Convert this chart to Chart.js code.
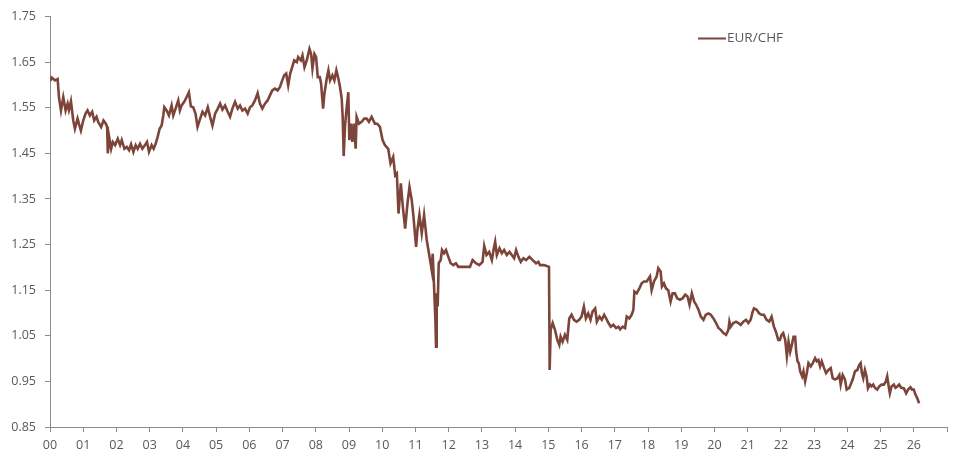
<!DOCTYPE html>
<html>
<head>
<meta charset="utf-8">
<script src="https://cdn.jsdelivr.net/npm/chart.js@4/dist/chart.umd.min.js"></script>
<style>
  html, body { margin: 0; padding: 0; background: #ffffff; }
  #wrap { width: 956px; height: 461px; position: relative; }
</style>
</head>
<body>
<div id="wrap"><canvas id="c" width="956" height="461"></canvas></div>
<script>
const seriesLabel = "EUR/CHF";

const dates = [
2000.00,2000.05,2000.15,2000.23,2000.27,2000.33,2000.40,2000.47,2000.53,2000.57,2000.63,2000.70,2000.75,2000.83,2000.87,2000.93,
2001.00,2001.07,2001.13,2001.20,2001.27,2001.33,2001.40,2001.45,2001.54,2001.61,2001.68,2001.72,2001.74,2001.78,2001.84,2001.89,2001.96,
2002.04,2002.11,2002.16,2002.24,2002.31,2002.38,2002.44,2002.51,2002.58,2002.64,2002.71,2002.78,2002.86,2002.92,2002.98,
2003.06,2003.12,2003.18,2003.24,2003.30,2003.36,2003.41,2003.44,2003.51,2003.58,2003.66,2003.71,2003.78,2003.86,2003.91,2003.96,
2004.04,2004.11,2004.18,2004.24,2004.31,2004.38,2004.44,2004.52,2004.59,2004.67,2004.75,2004.82,2004.89,2004.97,
2005.05,2005.12,2005.19,2005.27,2005.35,2005.42,2005.49,2005.57,2005.65,2005.72,2005.79,2005.87,2005.95,
2006.02,2006.09,2006.17,2006.25,2006.32,2006.39,2006.47,2006.55,2006.62,2006.69,2006.77,2006.85,2006.92,2006.99,
2007.05,2007.11,2007.17,2007.23,2007.29,2007.35,2007.43,2007.47,2007.55,2007.60,2007.66,2007.73,2007.81,2007.86,2007.90,2007.96,
2008.01,2008.06,2008.12,2008.16,2008.22,2008.26,2008.33,2008.38,2008.43,2008.50,2008.56,2008.62,2008.68,2008.73,2008.78,2008.81,2008.84,2008.88,2008.93,2008.98,
2009.01,2009.06,2009.10,2009.15,2009.20,2009.23,2009.30,2009.38,2009.46,2009.53,2009.60,2009.68,2009.78,2009.85,2009.93,
2010.01,2010.08,2010.18,2010.25,2010.33,2010.39,2010.44,2010.49,2010.56,2010.62,2010.69,2010.76,2010.82,2010.89,2010.94,
2011.02,2011.06,2011.12,2011.19,2011.26,2011.34,2011.39,2011.44,2011.49,2011.52,2011.56,2011.60,2011.62,2011.64,2011.67,2011.70,2011.76,2011.80,2011.86,2011.92,2011.99,
2012.06,2012.14,2012.22,2012.29,2012.44,2012.64,2012.72,2012.82,2012.92,
2013.02,2013.07,2013.14,2013.22,2013.30,2013.35,2013.40,2013.45,2013.53,2013.60,2013.67,2013.75,2013.83,2013.90,2013.97,
2014.03,2014.10,2014.17,2014.25,2014.33,2014.43,2014.53,2014.63,2014.70,2014.75,2014.87,2014.95,
2015.02,2015.04,2015.07,2015.13,2015.20,2015.27,2015.33,2015.37,2015.43,2015.50,2015.57,2015.63,2015.70,2015.77,2015.85,2015.93,
2016.00,2016.07,2016.13,2016.20,2016.27,2016.33,2016.41,2016.46,2016.54,2016.61,2016.68,2016.74,2016.81,2016.88,2016.96,
2017.04,2017.11,2017.16,2017.24,2017.31,2017.36,2017.44,2017.51,2017.56,2017.59,2017.66,2017.74,2017.81,2017.88,2017.96,
2018.06,2018.11,2018.18,2018.26,2018.31,2018.38,2018.42,2018.48,2018.54,2018.61,2018.68,2018.74,2018.81,2018.88,2018.96,
2019.04,2019.12,2019.19,2019.25,2019.32,2019.39,2019.45,2019.52,2019.59,2019.67,2019.74,2019.82,2019.89,2019.97,
2020.05,2020.12,2020.19,2020.27,2020.35,2020.42,2020.45,2020.49,2020.57,2020.65,2020.72,2020.79,2020.87,2020.95,
2021.02,2021.09,2021.15,2021.19,2021.27,2021.35,2021.42,2021.49,2021.57,2021.65,2021.72,2021.79,2021.85,2021.92,2021.97,
2022.02,2022.07,2022.13,2022.18,2022.23,2022.28,2022.33,2022.38,2022.43,2022.46,2022.50,2022.54,2022.58,2022.64,2022.68,2022.73,2022.78,2022.83,2022.90,2022.96,
2023.03,2023.08,2023.13,2023.18,2023.23,2023.30,2023.36,2023.43,2023.50,2023.56,2023.63,2023.70,2023.76,2023.80,2023.86,2023.93,2023.98,
2024.06,2024.10,2024.16,2024.23,2024.30,2024.36,2024.40,2024.44,2024.48,2024.53,2024.58,2024.62,2024.68,2024.73,2024.78,2024.83,2024.90,2024.96,
2025.03,2025.10,2025.16,2025.20,2025.23,2025.28,2025.33,2025.40,2025.45,2025.52,2025.56,2025.62,2025.70,2025.77,2025.83,2025.90,2025.95,
2026.00,2026.05,2026.10,2026.16
];

const eurchf = [
1.608,1.616,1.610,1.613,1.573,1.544,1.573,1.544,1.559,1.545,1.564,1.522,1.504,1.526,1.515,1.500,
1.522,1.537,1.544,1.533,1.541,1.522,1.530,1.519,1.508,1.522,1.515,1.508,1.450,1.486,1.460,1.475,1.468,
1.482,1.468,1.479,1.460,1.464,1.457,1.470,1.453,1.468,1.460,1.471,1.460,1.468,1.475,1.453,
1.468,1.460,1.471,1.486,1.504,1.511,1.533,1.551,1.544,1.533,1.555,1.533,1.548,1.566,1.544,1.555,
1.563,1.573,1.584,1.553,1.551,1.537,1.508,1.526,1.541,1.533,1.551,1.530,1.511,1.537,
1.548,1.559,1.546,1.555,1.541,1.530,1.548,1.563,1.548,1.555,1.544,1.548,1.537,
1.551,1.555,1.566,1.582,1.559,1.548,1.559,1.566,1.577,1.588,1.592,1.588,1.595,1.610,
1.621,1.625,1.599,1.625,1.639,1.654,1.650,1.661,1.654,1.665,1.639,1.654,1.679,1.668,1.636,1.668,
1.661,1.617,1.617,1.603,1.548,1.581,1.614,1.632,1.610,1.621,1.610,1.632,1.614,1.595,1.570,1.530,1.444,1.510,1.551,1.584,
1.479,1.515,1.475,1.515,1.460,1.530,1.515,1.519,1.526,1.526,1.519,1.530,1.515,1.515,1.508,
1.479,1.468,1.460,1.428,1.442,1.402,1.406,1.318,1.384,1.333,1.285,1.340,1.376,1.347,1.311,
1.245,1.282,1.315,1.275,1.315,1.260,1.238,1.216,1.194,1.230,1.158,1.085,1.026,1.143,1.114,1.209,1.216,1.238,1.231,1.238,1.223,
1.209,1.205,1.209,1.201,1.201,1.201,1.216,1.209,1.205,
1.212,1.247,1.227,1.234,1.216,1.238,1.256,1.227,1.242,1.231,1.238,1.227,1.234,1.227,1.220,
1.238,1.223,1.212,1.220,1.216,1.223,1.216,1.209,1.212,1.205,1.205,1.203,
1.201,0.975,1.063,1.078,1.063,1.041,1.030,1.048,1.037,1.052,1.041,1.088,1.096,1.085,1.081,1.085,
1.092,1.114,1.088,1.099,1.085,1.103,1.110,1.081,1.092,1.085,1.096,1.088,1.078,1.070,1.074,
1.067,1.070,1.064,1.070,1.067,1.092,1.088,1.096,1.107,1.147,1.143,1.154,1.165,1.169,1.169,
1.180,1.150,1.169,1.180,1.198,1.191,1.158,1.165,1.154,1.150,1.125,1.143,1.143,1.132,1.129,
1.132,1.140,1.136,1.118,1.143,1.125,1.118,1.107,1.092,1.085,1.096,1.099,1.096,1.088,
1.078,1.067,1.063,1.056,1.052,1.063,1.081,1.070,1.078,1.081,1.078,1.074,1.081,1.085,
1.078,1.085,1.103,1.110,1.107,1.099,1.096,1.096,1.085,1.081,1.092,1.070,1.059,1.041,1.041,
1.052,1.056,1.041,1.005,1.037,1.015,1.030,1.048,1.048,1.015,0.994,0.990,0.972,0.961,0.972,0.950,0.968,0.990,0.983,0.990,
1.001,0.994,0.997,0.983,0.994,0.979,0.968,0.975,0.979,0.957,0.954,0.957,0.964,0.943,0.964,0.954,0.932,
0.936,0.943,0.954,0.972,0.975,0.986,0.990,0.968,0.957,0.975,0.961,0.935,0.943,0.939,0.943,0.936,0.932,0.939,
0.943,0.943,0.950,0.961,0.946,0.924,0.939,0.943,0.936,0.940,0.943,0.936,0.935,0.924,0.932,0.937,0.932,
0.932,0.921,0.914,0.902
];

const xTickYears = [2000,2001,2002,2003,2004,2005,2006,2007,2008,2009,2010,2011,2012,2013,2014,2015,2016,2017,2018,2019,2020,2021,2022,2023,2024,2025,2026,2027];
const xTickLabels = ["00","01","02","03","04","05","06","07","08","09","10","11","12","13","14","15","16","17","18","19","20","21","22","23","24","25","26",""];
const yTickValues = [0.85,0.95,1.05,1.15,1.25,1.35,1.45,1.55,1.65,1.75];
const yTickLabels = ["0.85","0.95","1.05","1.15","1.25","1.35","1.45","1.55","1.65","1.75"];

const lineColor = "#7d4539";
const axisColor = "#8c8c8c";
const textColor = "#595959";
const fontFamily = "'Open Sans', 'Noto Sans', sans-serif";

const points = dates.map((d, i) => ({ x: d, y: eurchf[i] }));

const legendPlugin = {
  id: "customLegend",
  afterDraw(chart) {
    const ctx = chart.ctx;
    const ds = chart.data.datasets[0];
    ctx.save();
    ctx.strokeStyle = ds.borderColor;
    ctx.lineWidth = 2;
    ctx.beginPath();
    ctx.moveTo(698, 38.5);
    ctx.lineTo(726, 38.5);
    ctx.stroke();
    ctx.fillStyle = textColor;
    ctx.font = "13.5px " + fontFamily;
    ctx.textBaseline = "middle";
    ctx.textAlign = "left";
    ctx.fillText(ds.label, 727, 38.5);
    ctx.restore();
  }
};

new Chart(document.getElementById("c"), {
  type: "line",
  data: {
    datasets: [{
      label: seriesLabel,
      data: points,
      borderColor: lineColor,
      borderWidth: 2.6,
      borderJoinStyle: "miter",
      pointRadius: 0,
      tension: 0,
      fill: false
    }]
  },
  options: {
    responsive: false,
    animation: false,
    devicePixelRatio: 1,
    layout: { padding: { top: 16, right: 9, left: 0, bottom: 0 } },
    plugins: { legend: { display: false }, tooltip: { enabled: false } },
    scales: {
      x: {
        type: "linear",
        min: 2000,
        max: 2027,
        afterBuildTicks(scale) { scale.ticks = xTickYears.map(v => ({ value: v })); },
        afterFit(scale) { scale.height = 34; },
        ticks: {
          autoSkip: false,
          maxRotation: 0,
          padding: 6,
          color: textColor,
          font: { family: fontFamily, size: 12.5 },
          callback(value, index) { return xTickLabels[index]; }
        },
        grid: { drawOnChartArea: false, drawTicks: true, tickLength: 5, color: axisColor },
        border: { display: true, color: axisColor, width: 1 }
      },
      y: {
        type: "linear",
        min: 0.85,
        max: 1.75,
        afterBuildTicks(scale) { scale.ticks = yTickValues.map(v => ({ value: v })); },
        afterFit(scale) { scale.width = 50; },
        ticks: {
          padding: 9,
          color: textColor,
          font: { family: fontFamily, size: 12.5 },
          callback(value, index) { return yTickLabels[index]; }
        },
        grid: { drawOnChartArea: false, drawTicks: true, tickLength: 5, color: axisColor },
        border: { display: true, color: axisColor, width: 1 }
      }
    }
  },
  plugins: [legendPlugin]
});
</script>
</body>
</html>
